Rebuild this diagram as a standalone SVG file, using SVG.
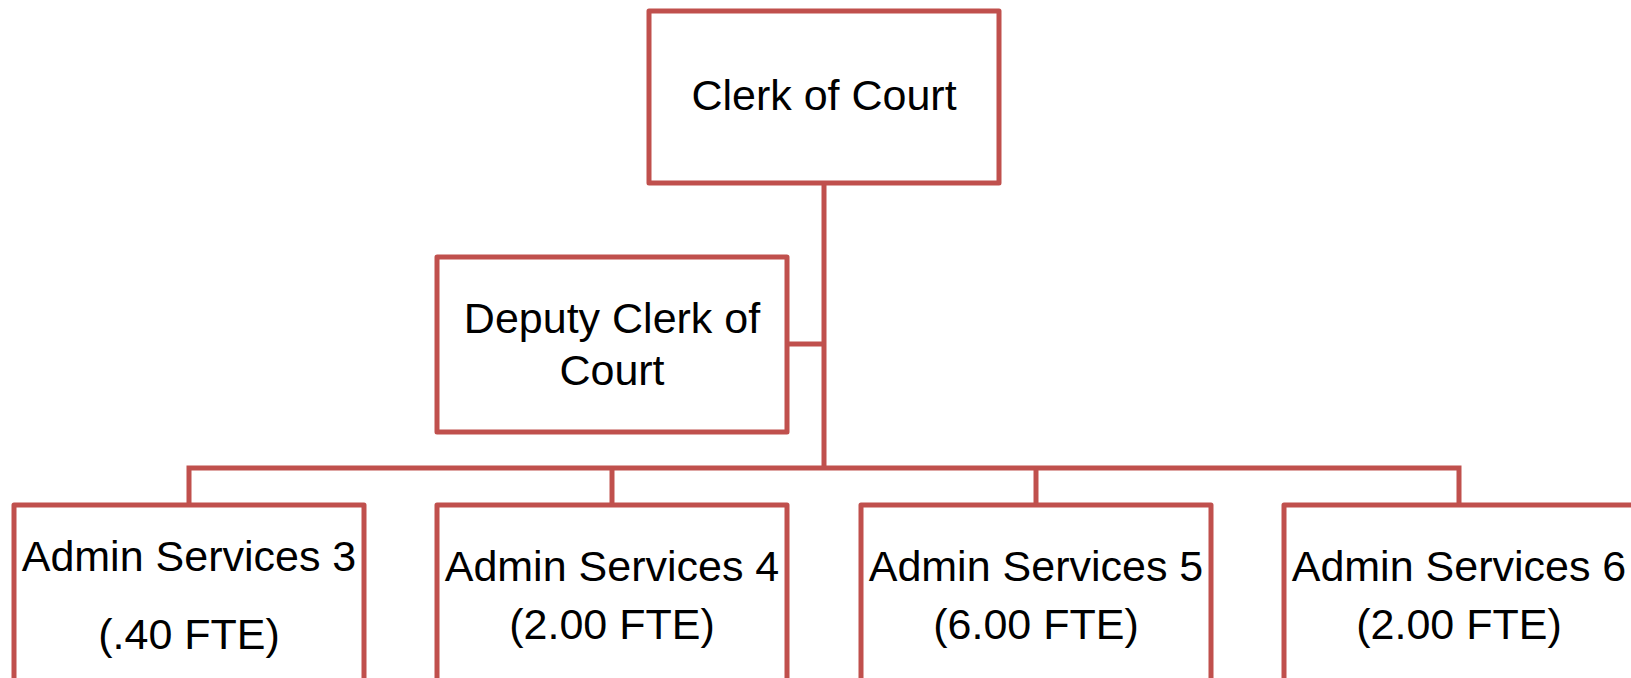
<svg xmlns="http://www.w3.org/2000/svg" width="1631" height="678" viewBox="0 0 1631 678">
<style>
.box{fill:#fff;stroke:#C0504D;stroke-width:5;stroke-linejoin:round}
.con{fill:none;stroke:#C0504D;stroke-width:5}
text{font-family:"Liberation Sans",Arial,sans-serif;font-size:43px;fill:#000;text-anchor:middle}
</style>
<rect width="1631" height="678" fill="#fff"/>
<g id="connectors">
<path class="con" d="M824 183V468"/>
<path class="con" d="M787 344H824"/>
<path class="con" d="M189 505V468H1459V505"/>
<path class="con" d="M612 468V505"/>
<path class="con" d="M1036 468V505"/>
</g>
<g id="clerk">
<rect class="box" x="649" y="11" width="350" height="172"/>
<text x="824" y="110">Clerk of Court</text>
</g>
<g id="deputy">
<rect class="box" x="437" y="257" width="350" height="175"/>
<text x="612" y="333">Deputy Clerk of</text>
<text x="612" y="385">Court</text>
</g>
<g id="admin3">
<rect class="box" x="14" y="505" width="350" height="200"/>
<text x="189" y="571">Admin Services 3</text>
<text x="189" y="649">(.40 FTE)</text>
</g>
<g id="admin4">
<rect class="box" x="437" y="505" width="350" height="200"/>
<text x="612" y="581">Admin Services 4</text>
<text x="612" y="639">(2.00 FTE)</text>
</g>
<g id="admin5">
<rect class="box" x="861" y="505" width="350" height="200"/>
<text x="1036" y="581">Admin Services 5</text>
<text x="1036" y="639">(6.00 FTE)</text>
</g>
<g id="admin6">
<rect class="box" x="1284" y="505" width="350" height="200"/>
<text x="1459" y="581">Admin Services 6</text>
<text x="1459" y="639">(2.00 FTE)</text>
</g>
</svg>
